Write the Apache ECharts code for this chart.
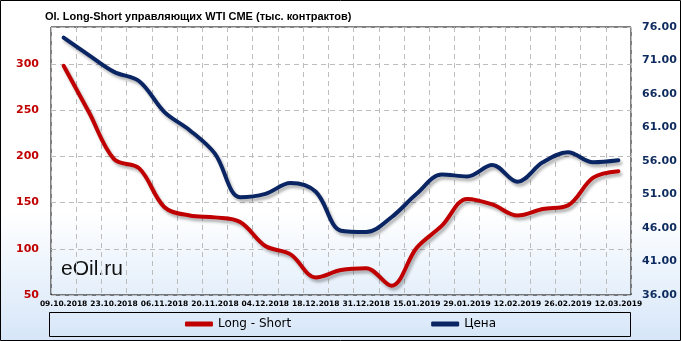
<!DOCTYPE html>
<html><head><meta charset="utf-8">
<script src="https://cdn.jsdelivr.net/npm/echarts@6/dist/echarts.min.js"></script>
<style>html,body{margin:0;padding:0;background:#fff}#c{width:681px;height:341px}</style>
</head><body><div id="c"></div>
<script>
const categories = ['09.10.2018','16.10.2018','23.10.2018','30.10.2018','06.11.2018','13.11.2018','20.11.2018','27.11.2018','04.12.2018','11.12.2018','18.12.2018','24.12.2018','31.12.2018','08.01.2019','15.01.2019','22.01.2019','29.01.2019','05.02.2019','12.02.2019','19.02.2019','26.02.2019','05.03.2019','12.03.2019'];
const longShort = [298, 248, 197, 187, 145, 136, 134, 129, 103, 94, 69, 77, 79, 60, 101, 125, 154, 148, 136, 143, 147, 177, 184];
const price = [74.4, 71.8, 69.3, 67.9, 63.3, 60.6, 57.1, 50.6, 51.1, 52.7, 51.4, 45.6, 45.4, 47.6, 51.1, 54.0, 53.7, 55.4, 52.9, 55.8, 57.3, 55.8, 56.1];
const seriesNames = ['Long - Short', 'Цена'];
const titleText = 'OI. Long-Short управляющих WTI CME (тыс. контрактов)';
const watermark = 'eOil.ru';

const chart = echarts.init(document.getElementById('c'), null, {renderer:'canvas'});
const shadow = {shadowColor:'rgba(0,0,0,0.3)', shadowBlur:3, shadowOffsetX:2, shadowOffsetY:3};
chart.setOption({
  animation:false,
  backgroundColor:{type:'linear',x:0,y:0,x2:0,y2:1,colorStops:[{offset:0,color:'#ffffff'},{offset:0.62,color:'#ffffff'},{offset:1,color:'#d6e6f8'}]},
  title:{text:titleText,left:40,top:6,textStyle:{fontFamily:'Liberation Sans',fontWeight:'bold',fontSize:11,color:'#000'}},
  grid:{left:51,right:50,top:27,bottom:46,show:true,borderColor:'#000',borderWidth:1,backgroundColor:'transparent'},
  legend:{bottom:6,left:'center',itemGap:140,itemWidth:28,itemHeight:5,icon:'roundRect',
    textStyle:{fontFamily:'DejaVu Sans',fontSize:12,color:'#000'},data:seriesNames},
  graphic:[
    {type:'rect',shape:{x:0.5,y:0.5,width:680,height:340},style:{fill:'none',stroke:'#000',lineWidth:1},silent:true,z:100},
    {type:'rect',shape:{x:49.5,y:312.5,width:581,height:24},style:{fill:'none',stroke:'#000',lineWidth:1},silent:true},
    {type:'text',left:61,top:259,style:{text:watermark,fontFamily:'Liberation Sans',fontSize:21,fill:'#111'},silent:true}
  ],
  xAxis:{type:'category',data:categories,boundaryGap:true,
    axisLine:{show:false},axisTick:{show:false},
    axisLabel:{interval:1,margin:5,fontFamily:'DejaVu Sans',fontWeight:'bold',fontSize:7.5,color:'#000'},
    splitLine:{show:true,interval:0,lineStyle:{color:'#bdbdbd',type:[5,4],width:1}}},
  yAxis:[
    {type:'value',min:50,max:340,interval:50,position:'left',
      axisLine:{show:false},axisTick:{show:false},
      axisLabel:{showMaxLabel:false,margin:12,fontFamily:'DejaVu Sans',fontWeight:'bold',fontSize:11,color:'#c00000'},
      splitLine:{show:true,lineStyle:{color:'#bdbdbd',type:[5,4],width:1}}},
    {type:'value',min:36,max:76,interval:5,position:'right',
      axisLine:{show:false},axisTick:{show:false},
      axisLabel:{margin:11,fontFamily:'DejaVu Sans',fontWeight:'bold',fontSize:11,color:'#0d2a5e',formatter:v=>v.toFixed(2)},
      splitLine:{show:false}}
  ],
  series:[
    {name:seriesNames[0],type:'line',yAxisIndex:0,data:longShort,smooth:0.35,symbol:'none',
      lineStyle:Object.assign({color:'#c00000',width:4,cap:'round'},shadow),itemStyle:{color:'#c00000'}},
    {name:seriesNames[1],type:'line',yAxisIndex:1,data:price,smooth:0.35,symbol:'none',
      lineStyle:Object.assign({color:'#0a2564',width:4,cap:'round'},shadow),itemStyle:{color:'#0a2564'}}
  ]
});
</script></body></html>
